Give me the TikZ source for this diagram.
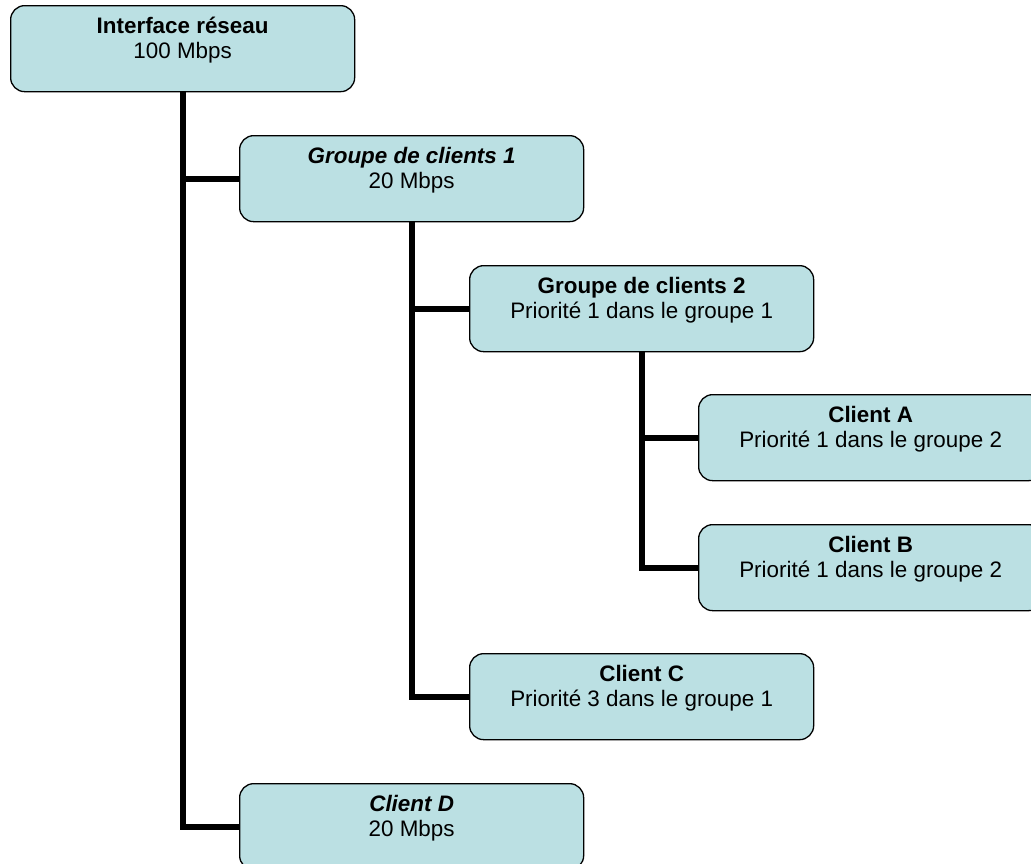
\documentclass[tikz,border=0pt]{standalone}
\usepackage{fontspec}
\setmainfont{Liberation Sans}
\definecolor{boxfill}{RGB}{187,224,227}
% two-line label: title on top, detail below, set in the upper part of the box
\newcommand\boxlabel[2]{\parbox[c][86pt][t]{344pt}{\centering\rule{0pt}{28pt}#1\\#2}}
\begin{document}
\begin{tikzpicture}[x=1pt,y=-1pt,
  box/.style={draw=black, line width=1.3pt, fill=boxfill, rounded corners=14pt,
    anchor=north west, inner sep=0pt, minimum width=344pt, minimum height=86pt,
    font=\fontsize{22.4pt}{25pt}\selectfont},
  link/.style={draw=black, line width=6pt}]
\useasboundingbox (0,0) rectangle (1031,863);
\clip (0,0) rectangle (1031,863);

% hierarchy boxes
\node[box] (ni) at (10,5)    {\boxlabel{\textbf{Interface réseau}}{100 Mbps}};
\node[box] (g1) at (239,135) {\boxlabel{\textbf{\textit{Groupe de clients 1}}}{20 Mbps}};
\node[box] (g2) at (469,265) {\boxlabel{\textbf{Groupe de clients 2}}{Priorité 1 dans le groupe 1}};
\node[box] (ca) at (698,394) {\boxlabel{\textbf{Client A}}{Priorité 1 dans le groupe 2}};
\node[box] (cb) at (698,524) {\boxlabel{\textbf{Client B}}{Priorité 1 dans le groupe 2}};
\node[box] (cc) at (469,653) {\boxlabel{\textbf{Client C}}{Priorité 3 dans le groupe 1}};
\node[box] (nd) at (239,783) {\boxlabel{\textbf{\textit{Client D}}}{20 Mbps}};

% tree connectors: trunk from each parent down to its last child, branches to the others
\draw[link] (ni.south) |- (nd.west);
\draw[link] (ni.south |- g1.west) -- (g1.west);
\draw[link] (g1.south) |- (cc.west);
\draw[link] (g1.south |- g2.west) -- (g2.west);
\draw[link] (g2.south) |- (cb.west);
\draw[link] (g2.south |- ca.west) -- (ca.west);
\end{tikzpicture}
\end{document}
